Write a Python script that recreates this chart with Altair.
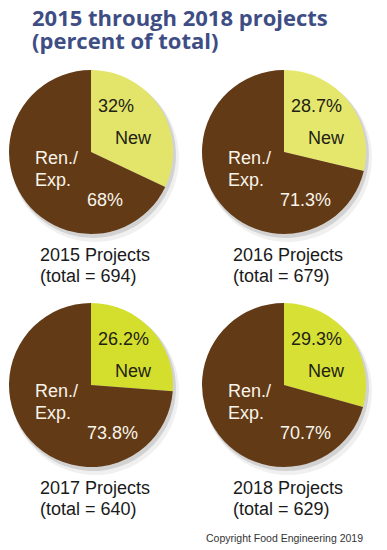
import math
import altair as alt
import pandas as pd

# ---- data ----
years = [2015, 2016, 2017, 2018]
new_pct = [32, 28.7, 26.2, 29.3]
ren_pct = [68, 71.3, 73.8, 70.7]
totals = [694, 679, 640, 629]
grid_col = [0, 1, 0, 1]
grid_row = [0, 0, 1, 1]
categories = ["New", "Ren./Exp."]
title_lines = ["2015 through 2018 projects", "(percent of total)"]
copyright_note = "Copyright Food Engineering 2019"

# ---- styles ----
NEW_COLORS = ["#e3e56a", "#e5e76d", "#d4df2d", "#d7e034"]
BROWN = "#633a16"
BODY_FONT = "Liberation Sans"

rows = []
for i, yr in enumerate(years):
    for k, (cat, val) in enumerate(zip(categories, [new_pct[i], ren_pct[i]])):
        rows.append(dict(year=yr, col=grid_col[i], row=grid_row[i], category=cat,
                         order=k, value=val, key=f"{cat} {yr}"))
slices = pd.DataFrame(rows)
summary = pd.DataFrame(dict(year=years, col=grid_col, row=grid_row, total=totals,
                            new=new_pct, ren=ren_pct))
note_df = pd.DataFrame(dict(col=[1], row=[1], note=[copyright_note]))

color_domain = [f"New {y}" for y in years] + [f"Ren./Exp. {y}" for y in years]
color_range = NEW_COLORS + [BROWN] * len(years)

X = alt.X("col:Q", scale=alt.Scale(domain=[0, 1], range=[83, 276]), axis=None)
Y = alt.Y("row:Q", scale=alt.Scale(domain=[0, 1], range=[86, 319]), axis=None)
TH = alt.Theta("start:Q", scale=alt.Scale(domain=[0, 100], range=[0, 2 * math.pi]))

arc_base = alt.Chart(slices).transform_window(
    cum="sum(value)", groupby=["year"], sort=[alt.SortField("order")], frame=[None, 0]
).transform_calculate(start="datum.cum - datum.value")

shadow1 = arc_base.mark_arc(outerRadius=84, xOffset=4, yOffset=6, color="#000000", opacity=0.06).encode(
    x=X, y=Y, theta=TH, theta2="cum:Q")
shadow2 = arc_base.mark_arc(outerRadius=83, xOffset=2, yOffset=3, color="#000000", opacity=0.12).encode(
    x=X, y=Y, theta=TH, theta2="cum:Q")
arcs = arc_base.mark_arc(outerRadius=82).encode(
    x=X, y=Y, theta=TH, theta2="cum:Q",
    color=alt.Color("key:N", scale=alt.Scale(domain=color_domain, range=color_range), legend=None),
)

txt = alt.Chart(summary).transform_calculate(
    new_label="datum.new + '%'",
    ren_label="datum.ren + '%'",
    line1="datum.year + ' Projects'",
    line2="'(total = ' + datum.total + ')'",
)

common = dict(font=BODY_FONT, fontSize=18, baseline="middle")
new_pct_t = txt.mark_text(align="left", dx=7, dy=-45, color="#222214", **common).encode(
    x=X, y=Y, text="new_label:N")
new_t = txt.mark_text(align="center", dx=42, dy=-13, color="#222214", **common).encode(
    x=X, y=Y, text=alt.value(categories[0]))
ren_t = txt.mark_text(align="left", dx=-56, dy=7, lineHeight=22, color="#f8f4ea", **common).encode(
    x=X, y=Y, text=alt.value(["Ren./", "Exp."]))
ren_pct_t = txt.mark_text(align="left", dx=-4, dy=49, color="#f8f4ea", **common).encode(
    x=X, y=Y, text="ren_label:N")
cap1 = txt.mark_text(align="left", dx=-51, dy=104, color="#1a1a1a", **common).encode(
    x=X, y=Y, text="line1:N")
cap2 = txt.mark_text(align="left", dx=-51, dy=125, color="#1a1a1a", **common).encode(
    x=X, y=Y, text="line2:N")
note = alt.Chart(note_df).mark_text(
    align="right", baseline="middle", dx=79, dy=154, font=BODY_FONT, fontSize=10.5, color="#333333"
).encode(x=X, y=Y, text="note:N")

chart = alt.layer(shadow1, shadow2, arcs, new_pct_t, new_t, ren_t, ren_pct_t, cap1, cap2, note).properties(
    width=371,
    height=476,
    title=alt.Title(title_lines, anchor="start", dx=24, offset=12, fontSize=22, font="Open Sans",
                    fontWeight="bold", color="#3e4e85", lineHeight=23, frame="group"),
    autosize=alt.AutoSizeParams(type="none"),
    padding={"left": 0, "top": 58, "right": 0, "bottom": 8},
).configure_view(stroke=None)

chart.save("out.html", embed_options={"renderer": "svg", "actions": False})
